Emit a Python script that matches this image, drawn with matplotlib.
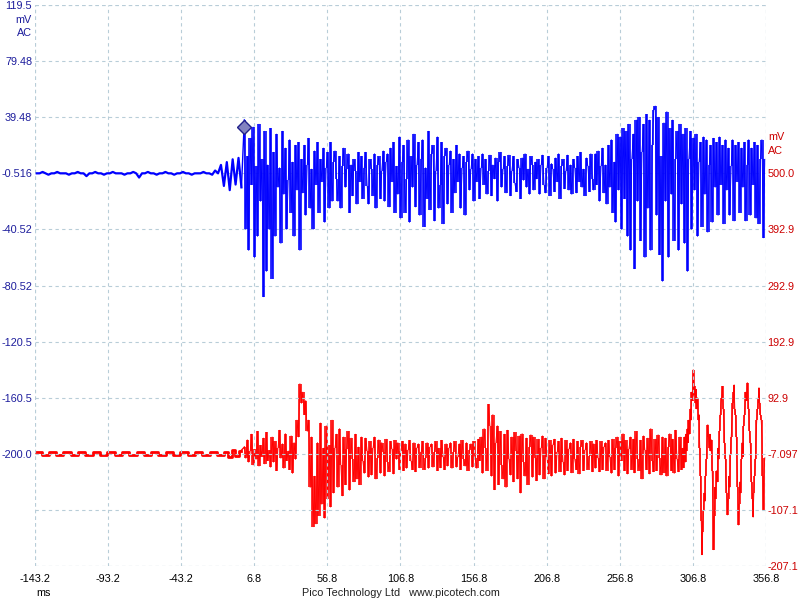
import numpy as np
import matplotlib
matplotlib.use("Agg")
import matplotlib.pyplot as plt

plt.rcParams['font.family'] = ['Liberation Sans', 'DejaVu Sans']

# time axis (ms)
x_ticks = [-143.2, -93.2, -43.2, 6.8, 56.8, 106.8, 156.8, 206.8, 256.8, 306.8, 356.8]
x_labels = ["-143.2", "-93.2", "-43.2", "6.8", "56.8", "106.8", "156.8", "206.8", "256.8", "306.8", "356.8"]

# channel A (blue, left scale, mV)
a_ticks = [119.5, 79.48, 39.48, -0.516, -40.52, -80.52, -120.5, -160.5, -200.5, -240.5, -280.5]
a_labels = ["119.5", "79.48", "39.48", "-0.516", "-40.52", "-80.52", "-120.5", "-160.5", "-200.0", "", ""]
a_base = -0.516

# channel B (red, right scale, mV)
b_ticks = [792.9, 692.9, 592.9, 492.9, 392.9, 292.9, 192.9, 92.9, -7.097, -107.1, -207.1]
b_labels = ["", "", "", "500.0", "392.9", "292.9", "192.9", "92.9", "-7.097", "-107.1", "-207.1"]
b_base = -7.097

# blue pre-trigger samples, 2 ms apart, ending at -2 ms (offset from baseline)
a_pre = [0, 0, 1, 0, -1, 0, 0, 1, 0, 0,
         0, -1, 0, 0, 1, 0, 0, -2, 0, 0,
         1, 0, 0, -1, 0, 0, 1, 0, 0, 0,
         -1, 0, 0, 1, 0, -3, 0, 0, 1, 0,
         0, -1, 0, 0, 1, 0, 0, -1, 0, 0,
         1, 0, 0, -1, 0, 0, 0, 1, 0, 0,
         -1, 2, 0, 6, -9, 8, -12, 10, -8, 11, -10]

# blue after trigger, 1 ms apart from 0 ms
a_post = [38, -40, 12, -55, 25, -8, 33, -60, 5, -45, 35, -20, 10, -88, 30, -70, 6, -40, 32, -75,
          15, -45, 28, -10, 4, -50, 30, -15, 18, -40, -5, 24, -28, 8, -45, 20, -12, 22, -55, 10,
          -14, 20, -30, 6, 25, -25, 3, -40, 16, -8, 22, -28, 10, -6, 18, -35, 4, 15, -25, 22,
          -20, 8, 16, -4, -20, 12, -25, 5, 18, -10, 3, 14, -28, 6, -16, 10, 2, -22, 15, -6,
          12, -18, 4, 15, -9, -22, 10, 3, -16, 14, -25, 6, 12, -18, 2, 16, -20, 8, 14, -24,
          18, -6, 22, -28, 5, -15, 26, -32, 8, 20, -28, -4, 24, -35, 12, -10, 28, -24, 6, 22,
          -30, 10, 24, -38, 4, -18, 30, -26, 14, 20, -34, 2, 26, -25, -8, 22, -36, 12, 18, -22,
          6, 16, -28, 10, -14, 20, -6, 14, -25, 4, 12, -30, 8, 16, -12, 3, 14, -20, 10, -6,
          12, -18, 4, 14, -8, 10, -15, 2, 13, -16, 6, -4, 11, -20, 8, 15, -10, 3, 12, -14,
          5, 13, -16, 2, 12, -7, -13, 10, 4, -18, 11, -5, 14, -10, 3, -15, 12, 6, -12, 8,
          -4, 10, -15, 6, 13, -8, -14, 4, 12, -16, 7, 3, -13, 11, -6, 14, -18, 5, 10, -11,
          2, 13, -12, 6, -15, 10, 4, -14, 12, -6, 15, -10, 3, -16, 11, 5, -13, 14, -4, -12,
          14, -8, 16, -20, 5, 18, -14, 6, -22, 20, -10, 24, -28, 8, -35, 28, -12, 26, -40, 32,
          -18, 30, -45, 35, -55, 10, 28, -68, 38, -20, 40, -48, 15, 35, -60, 42, -25, 38, -55, 20,
          45, 48, -30, 40, -58, 12, -77, 36, -20, 44, -60, 32, -15, 38, -48, 10, 30, -55, 35, -22,
          28, -50, 32, -70, 10, 30, -40, 25, -12, 28, -45, 8, 22, -38, 26, -15, 24, -42, 6, 20,
          -35, 25, -10, 22, -30, 26, -8, 20, -36, 24, -12, 18, -30, 5, 24, -34, 20, -6, 22, -28,
          18, -10, 22, -34, 6, 24, -30, 18, -8, 22, -32, 20, -36, 10, 24, -46, 10]

# red pre-trigger samples, 2.5 ms apart, ending at -2.5 ms
b_pre = [3, 3, -3, -3, 3, 3, -3, -3, 3, 3, -3, -3, 3, 3, -3, -3,
         3, 3, -3, -3, 3, 3, -3, -3, 3, 3, -3, -3, 3, 3, -3, -3,
         3, 3, -3, -3, 3, 3, -3, -3, 3, 3, -3, -3, 3, 3, -3, -3,
         3, 3, -3, -3, 4, -5, 6, -4, 5]

# red after trigger, 1 ms apart from 0 ms to 299 ms
b_post = [12, -8, 25, -15, 5, 35, -20, 8, -10, 40, -22, 15, -5, 28, -18, 38, -12, 6, -24, 30,
          -15, 22, -30, 10, 42, -8, 18, -26, 36, -12, 5, -28, 32, -35, 20, -10, 60, 30, 125, 90,
          110, 70, 95, 40, 60, -60, 30, -130, -40, -125, 20, -110, 55, -90, 10, -115, 50, -80, 15, -95,
          60, -70, 10, 35, -60, 45, -20, -75, 30, -55, 8, 40, -65, 28, -10, -50, 35, -45, 12, -55,
          30, -12, -35, 28, 5, -42, 22, -38, 10, 30, -45, -8, 25, -35, 20, 4, -40, 26, -15, -32,
          22, 8, -36, 24, -10, 20, -28, 5, 22, -30, 18, -26, 6, 24, -12, -28, 20, -32, 10, 18,
          -25, 4, 22, -28, -8, 20, -26, 12, 18, -24, 3, 22, -30, 10, -25, 24, -6, -28, 18, -22,
          10, 20, -26, 4, 22, -24, -6, 18, -28, 24, -10, -22, 20, -30, 6, 18, -24, 22, -8, -26,
          26, -12, 30, -35, 45, 10, -30, 88, 50, -40, 70, -64, 20, 50, -55, 40, -20, -45, 35, -60,
          42, -10, -38, 30, -50, 38, 5, -45, 32, -70, 36, -15, -40, 28, -55, 12, 34, -42, 30, -8,
          -48, 26, -38, 10, 32, -45, 28, -6, -36, 24, -40, 15, 26, -35, 4, 22, -32, 28, -14, -38,
          24, -30, 8, 20, -34, 26, -10, -28, 22, -36, 12, 24, -30, 6, 20, -28, -4, 22, -32, 18,
          -26, 24, -8, -32, 22, -28, 12, 20, -30, 24, -6, -35, 26, -28, 10, 30, -40, 22, -12, 36,
          -30, 24, -36, 8, 30, -28, 26, -34, 40, -10, -30, 24, -45, 32, 6, -28, 28, -36, 45, -12,
          -32, 26, -30, 34, -8, -38, 30, -34, 28, -40, 12, 36, -30, 26, -35, 42, -10, -32, 30, -28]

# red final burst, 0.5 ms apart from 300 ms
b_end = [10, -25, 30, -15, 35, 5, 45, 20, 60, 35, 80, 60, 110, 95, 150, 105, 120, 90, 115, 80,
         100, 60, 70, 10, -40, -120, -180, -140, -100, -70, -85, -40, -10, 20, 52, 30, 10, 35, 5, 25,
         -30, -90, -171, -110, -60, -80, -30, -50, 10, -10, 40, 70, 90, 100, 120, 80, 60, 20, -10, -50,
         -70, -109, -80, -40, -60, 0, 30, 60, 90, 110, 123, 80, 70, 30, -20, -60, -127, -90, -50, -70,
         -10, 20, -5, 50, 70, 90, 110, 95, 127, 100, 80, 40, 20, -20, -50, -80, -113, -70, -40, -10,
         30, 60, 80, 100, 118, 90, 70, 60, 30, -40, -100, -30, -7]

trig_t, trig_v = -0.5, 32.5

BLUE = "#0000ff"
BLUE_TXT = "#1c1c9c"
RED = "#ff0000"
RED_TXT = "#cc0000"
GRID = "#b8cdd8"
FS = 7.8


def scope_draw(axis, t, v, color, lw, **kw):
    # scope style: one vertical stroke per sample interval, spanning its two ends
    lo = np.minimum(v[:-1], v[1:])
    hi = np.maximum(v[:-1], v[1:])
    axis.vlines((t[:-1] + t[1:]) / 2, lo, hi, color=color, lw=lw, **kw)
    axis.plot(t, v, color=color, lw=0.6, **kw)


fig = plt.figure(figsize=(8, 6), dpi=100)
ax = fig.add_axes([35 / 800, 34 / 600, 731 / 800, 561 / 600])
ax2 = ax.twinx()

t_a_pre = np.arange(len(a_pre)) * 2.0 - 2.0 * len(a_pre)
t_a_post = np.arange(len(a_post)) * 1.0
t_b_pre = np.arange(len(b_pre)) * 2.5 - 2.5 * len(b_pre)
t_b_post = np.concatenate([np.arange(len(b_post)) * 1.0, len(b_post) + np.arange(len(b_end)) * 0.5])
v_b_post = b_base + np.array(b_post + b_end, dtype=float)
v_a_post = a_base + np.array(a_post, dtype=float)

# red channel
ax2.plot(t_b_pre, b_base + np.array(b_pre, dtype=float), color=RED, lw=2.0, drawstyle="steps-mid")
ax2.plot([t_b_pre[-1], 0], [b_base + b_pre[-1], v_b_post[0]], color=RED, lw=1.0)
scope_draw(ax2, t_b_post, v_b_post, RED, 1.15)

# blue channel
ax.plot(t_a_pre, a_base + np.array(a_pre, dtype=float), color=BLUE, lw=1.6, zorder=3)
ax.plot([t_a_pre[-1], 0], [a_base + a_pre[-1], v_a_post[0]], color=BLUE, lw=1.0, zorder=3)
scope_draw(ax, t_a_post, v_a_post, BLUE, 1.15, zorder=3)
ax.plot(trig_t, trig_v, marker="D", ms=7, mfc="#8282c0", mec="#20208a", mew=1, zorder=4)

# blue axis on top of the twin so blue is drawn over red
ax.set_zorder(ax2.get_zorder() + 1)
ax.patch.set_visible(False)

ax.set_xlim(x_ticks[0], x_ticks[-1])
ax.set_ylim(a_ticks[-1], a_ticks[0])
ax2.set_ylim(b_ticks[-1], b_ticks[0])

ax.set_xticks(x_ticks)
ax.set_xticklabels(x_labels)
ax.set_yticks(a_ticks)
ax.set_yticklabels(a_labels)
ax2.set_yticks(b_ticks)
ax2.set_yticklabels(b_labels)

ax.tick_params(axis="x", length=0, pad=6, labelsize=FS, colors="#000000")
ax.tick_params(axis="y", length=0, pad=2, labelsize=FS, colors=BLUE_TXT)
ax2.tick_params(axis="y", length=0, pad=1, labelsize=FS, colors=RED_TXT)

ax.grid(True, color=GRID, lw=0.8, ls=(0, (3, 3)))
for a in (ax, ax2):
    for s in a.spines.values():
        s.set_visible(False)
# frame edges are dashed gridlines too
for xx in (x_ticks[0], x_ticks[-1]):
    ax.axvline(xx, color=GRID, lw=0.8, ls=(0, (3, 3)), zorder=0)
for yy in (a_ticks[0], a_ticks[-1]):
    ax.axhline(yy, color=GRID, lw=0.8, ls=(0, (3, 3)), zorder=0)

fig.text(32 / 800, 1 - 20 / 600, "mV", color=BLUE_TXT, fontsize=FS, ha="right", va="center")
fig.text(32 / 800, 1 - 33 / 600, "AC", color=BLUE_TXT, fontsize=FS, ha="right", va="center")
fig.text(768 / 800, 1 - 137 / 600, "mV", color=RED_TXT, fontsize=FS, ha="left", va="center")
fig.text(768 / 800, 1 - 151 / 600, "AC", color=RED_TXT, fontsize=FS, ha="left", va="center")
fig.text(43 / 800, 1 - 593 / 600, "ms", color="#000000", fontsize=FS, ha="center", va="center")
fig.text(401 / 800, 1 - 593 / 600, "Pico Technology Ltd   www.picotech.com", color="#202020",
         fontsize=FS, ha="center", va="center")

fig.savefig("out.png", dpi=100)
